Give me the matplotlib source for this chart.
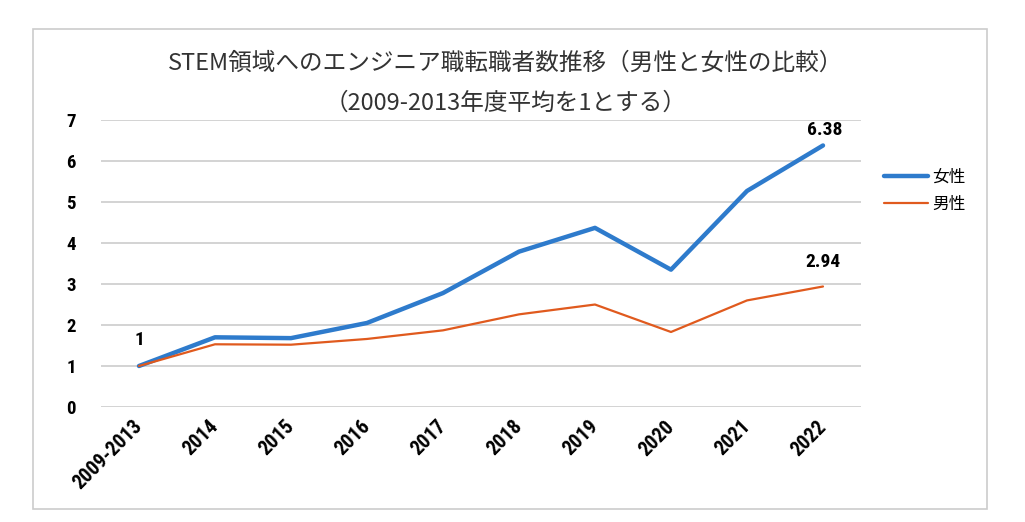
import matplotlib
matplotlib.use("Agg")
import matplotlib.pyplot as plt
import matplotlib.transforms as mtransforms
from matplotlib.patches import Rectangle

plt.rcParams['font.family'] = ['Noto Sans CJK JP', 'DejaVu Sans']

years = ["2009-2013", "2014", "2015", "2016", "2017", "2018", "2019", "2020", "2021", "2022"]
female = [1.0, 1.70, 1.68, 2.05, 2.78, 3.79, 4.37, 3.35, 5.27, 6.38]
male = [1.0, 1.53, 1.52, 1.66, 1.87, 2.26, 2.50, 1.83, 2.60, 2.94]
yticks = [0, 1, 2, 3, 4, 5, 6, 7]

num_font = dict(family=['Roboto Condensed', 'Archivo Narrow', 'DejaVu Sans'], weight='bold')

fig = plt.figure(figsize=(10.25, 5.22), dpi=100)
ax = fig.add_axes([0.0985, 0.2203, 0.7415, 0.5497])

x = list(range(len(years)))
ax.plot(x, female, color='#2e7bcc', lw=3.2, label='女性', solid_capstyle='round')
ax.plot(x, male, color='#e05a1e', lw=1.6, label='男性', solid_capstyle='round')

ax.set_xlim(-0.5, len(years) - 0.5)
ax.set_ylim(0, 7)
ax.set_yticks(yticks)
ax.set_yticklabels([str(v) for v in yticks], fontsize=13.5, **num_font)
ax.set_xticks(x)
ax.set_xticklabels(years, fontsize=14.5, rotation=45, ha='right', va='center',
                   rotation_mode='anchor', **num_font)
offset = mtransforms.ScaledTranslation(7 / 100, 0, fig.dpi_scale_trans)
for lab in ax.get_xticklabels():
    lab.set_transform(lab.get_transform() + offset)

ax.tick_params(axis='both', length=0)
ax.tick_params(axis='y', pad=18)
ax.tick_params(axis='x', pad=12)
ax.grid(axis='y', color='#d0d0d0', lw=1.3)
ax.set_axisbelow(True)
for s in ax.spines.values():
    s.set_visible(False)

# data labels
ax.annotate("1", (0, female[0]), xytext=(0, 12), textcoords='offset points',
            ha='center', va='bottom', fontsize=14, **num_font)
ax.annotate(f"{female[-1]:.2f}", (9, female[-1]), xytext=(1, 5), textcoords='offset points',
            ha='center', va='bottom', fontsize=14, **num_font)
ax.annotate(f"{male[-1]:.2f}", (9, male[-1]), xytext=(0, 11), textcoords='offset points',
            ha='center', va='bottom', fontsize=14, **num_font)

fig.legend(loc='upper left', bbox_to_anchor=(0.848, 0.705), frameon=False,
           fontsize=12, handlelength=2.6, handletextpad=0.3, labelspacing=0.6)

fig.text(0.493, 0.879, "STEM領域へのエンジニア職転職者数推移（男性と女性の比較）",
         ha='center', va='center', fontsize=17, color='#333333')
fig.text(0.493, 0.803, "（2009-2013年度平均を1とする）",
         ha='center', va='center', fontsize=17, color='#333333')

fig.patches.append(Rectangle((33 / 1025, 1 - 509 / 522), (987 - 33) / 1025, (509 - 29) / 522,
                             transform=fig.transFigure, fill=False, edgecolor='#cccccc', lw=1.2))

fig.savefig("out.png", dpi=100)
